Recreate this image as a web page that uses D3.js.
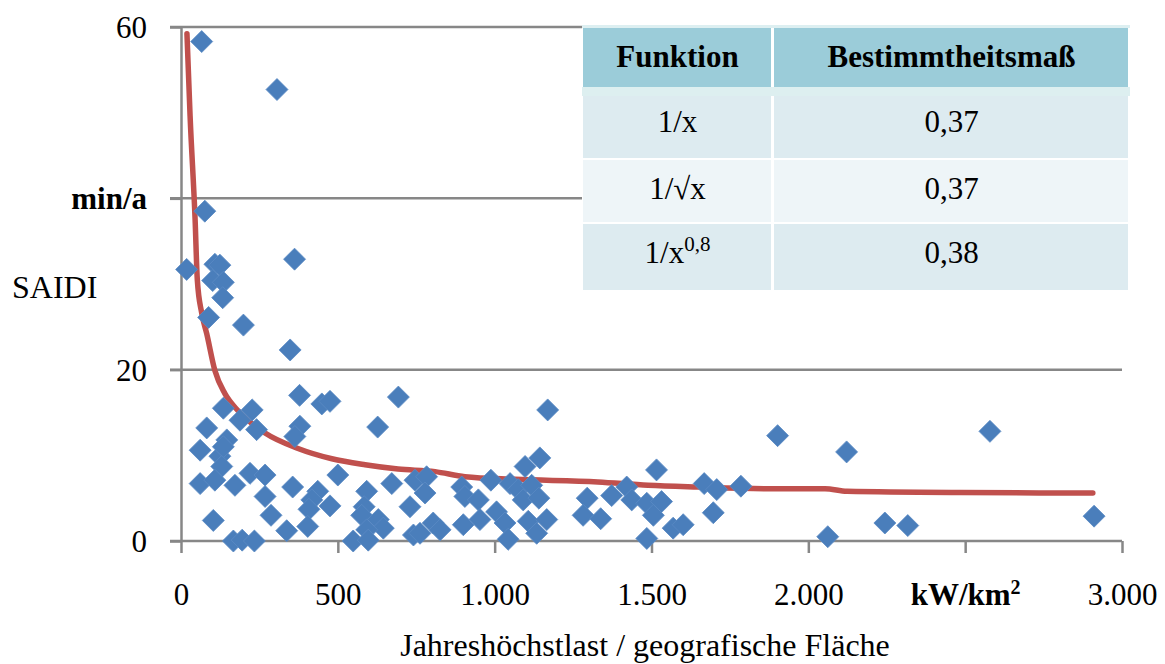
<!DOCTYPE html>
<html><head><meta charset="utf-8">
<script src="https://cdn.jsdelivr.net/npm/d3@7"></script>
<style>
html,body{margin:0;padding:0;background:#fff;}
svg{display:block;font-family:"Liberation Serif","Times New Roman",serif;}
</style></head>
<body>
<svg id="chart" width="1165" height="664"></svg>
<script>
// ---- data ----
const loadDensity = [66,306,76,18,108,124,101,135,133,88,362,199,348,
 378,449,475,693,627,135,227,188,241,82,146,61,124,135,379,363,130,61,108,172,220,268,268,356,500,436,417,408,475,287,103,337,404,167,195,234,672,592,584,576,629,645,592,549,597,730,746,741,762,
 1169,1144,1097,783,778,895,905,948,988,1049,1075,1118,1091,1141,900,953,1006,1033,1043,1107,1166,1134,804,826,1295,1282,1338,1373,1421,1437,1485,1532,1506,1516,1485,1569,
 1601,1668,1708,1785,1697,1902,2122,2062,2244,2317,2579,2911];
const saidi = [58.3,52.7,38.5,31.7,32.3,32.2,30.4,30.2,28.4,26.1,32.9,25.2,22.3,
 17.0,16.0,16.3,16.8,13.3,15.5,15.3,14.1,13.0,13.2,11.8,10.6,9.9,11.0,13.4,12.2,8.7,6.7,7.1,6.5,7.9,7.7,5.2,6.3,7.7,5.8,4.8,3.7,4.1,3.0,2.4,1.2,1.7,0,0.1,0,6.7,5.8,4.0,3.0,2.5,1.5,1.3,0,0.1,4.0,7.1,0.7,0.9,
 15.3,9.7,8.7,7.5,5.6,6.3,5.2,4.8,7.1,6.7,6.0,6.5,4.8,5.0,1.9,2.5,3.4,2.1,0.2,2.3,2.5,0.9,2.1,1.3,5.0,3.0,2.6,5.3,6.3,4.8,4.4,4.6,3.0,8.3,0.3,1.5,
 1.9,6.7,6.0,6.4,3.3,12.3,10.4,0.5,2.1,1.8,12.8,2.9];
const trendX = [19,29,45,52,66,82,108,140,182,268,373,481,587,692,810,905,1065,1329,1489,1648,1894,2053,2123,2483,2907];
const trendY = [59.2,49.6,37.5,30.5,26.6,24.2,19.9,17.2,15.2,12.6,10.8,9.6,8.9,8.4,8.1,7.5,7.2,6.9,6.5,6.3,6.1,6.1,5.8,5.65,5.6];
const xTicks = [0,500,1000,1500,2000,2500,3000];
const xTickLabels = ["0","500","1.000","1.500","2.000","kW/km²","3.000"];
const yTicks = [0,20,40,60];
const yTickLabels = ["0","20","min/a","60"];
const tableHeader = ["Funktion","Bestimmtheitsmaß"];
const tableFunctions = ["1/x","1/√x","1/x^0,8"];
const tableR2 = ["0,37","0,37","0,38"];
const yTitle = "SAIDI";
const xTitle = "Jahreshöchstlast / geografische Fläche";

// ---- chart ----
const svg = d3.select("#chart");
const x = d3.scaleLinear().domain([0,3000]).range([181,1122]);
const y = d3.scaleLinear().domain([0,60]).range([541,27]);
const axisColor = "#878787";
const fs = 31;

// gridlines
svg.append("g").selectAll("line").data(yTicks.filter(d=>d>0)).join("line")
  .attr("x1",170).attr("x2",x(3000)).attr("y1",d=>y(d)).attr("y2",d=>y(d))
  .attr("stroke",axisColor).attr("stroke-width",2.5);

// y axis
const gy = svg.append("g").attr("transform",`translate(${x(0)},0)`)
  .call(d3.axisLeft(y).tickValues(yTicks).tickSize(11).tickSizeOuter(0).tickPadding(23)
    .tickFormat((d,i)=>yTickLabels[i]));
gy.select(".domain").attr("stroke",axisColor).attr("stroke-width",2.5);
gy.selectAll(".tick line").attr("stroke",axisColor).attr("stroke-width",2.5);
gy.selectAll(".tick text").attr("font-family","Liberation Serif").attr("font-size",fs)
  .attr("fill","#000").attr("dy","0.34em")
  .attr("font-weight",(d,i)=>yTickLabels[i]==="min/a"?"bold":"normal");

// x axis
const gx = svg.append("g").attr("transform",`translate(0,${y(0)})`)
  .call(d3.axisBottom(x).tickValues(xTicks).tickSize(12).tickSizeOuter(0).tickPadding(30)
    .tickFormat((d,i)=>xTickLabels[i]));
gx.select(".domain").attr("stroke",axisColor).attr("stroke-width",2.5)
  .attr("d",`M${170},0H${x(3000)}`);
gx.selectAll(".tick line").attr("stroke",axisColor).attr("stroke-width",2.5);
gx.selectAll(".tick text").attr("font-family","Liberation Serif").attr("font-size",fs)
  .attr("fill","#000").attr("dy","0.71em");
gx.selectAll(".tick text").each(function(d,i){
  const lab = xTickLabels[i];
  if(lab.indexOf("kW")===0){
    const t = d3.select(this).text(null).attr("font-weight","bold");
    t.append("tspan").text("kW/km");
    t.append("tspan").text("2").attr("font-size",20).attr("dy",-11);
  }
});

// axis titles
svg.append("text").attr("x",12).attr("y",298).attr("font-size",fs+1).text(yTitle);
svg.append("text").attr("x",645).attr("y",656).attr("text-anchor","middle").attr("font-size",fs+1).text(xTitle);

// trend line
const line = d3.line().x((d,i)=>x(trendX[i])).y((d,i)=>y(trendY[i])).curve(d3.curveMonotoneX);
svg.append("path").datum(trendY).attr("d",line).attr("fill","none")
  .attr("stroke","#C0504D").attr("stroke-width",5.5).attr("stroke-linecap","round").attr("stroke-linejoin","round");

// points
const r = 11;
svg.append("g").selectAll("path").data(loadDensity).join("path")
  .attr("d",(d,i)=>{const cx=x(d), cy=y(saidi[i]); return `M${cx},${cy-r}L${cx+r},${cy}L${cx},${cy+r}L${cx-r},${cy}Z`;})
  .attr("fill","#4A7EBB").attr("stroke","#5B8AC4").attr("stroke-width",0.8);

// table
const tX0 = 582, tX1 = 1130, tSplit = 773;
const tb = svg.append("g");
tb.append("rect").attr("x",tX0).attr("y",24).attr("width",tX1-tX0).attr("height",268).attr("fill","#fff");
tb.append("rect").attr("x",tX0).attr("y",25).attr("width",tX1-tX0).attr("height",3).attr("fill","#DDEFF1");
const rowsY = [[28,87],[96,158],[160,222],[224,290]];
const rowFill = ["#9BCCD9","#DDEBF0","#EEF5F8","#DDEBF0"];
tb.append("rect").attr("x",tX0).attr("y",87).attr("width",tX1-tX0).attr("height",9).attr("fill","#DDEFF0");
rowsY.forEach((ry,ri)=>{
  tb.append("rect").attr("x",tX0+1).attr("y",ry[0]).attr("width",tSplit-tX0-3).attr("height",ry[1]-ry[0]).attr("fill",rowFill[ri]);
  tb.append("rect").attr("x",tSplit+1).attr("y",ry[0]).attr("width",tX1-tSplit-3).attr("height",ry[1]-ry[0]).attr("fill",rowFill[ri]);
});
const c1 = (tX0+tSplit)/2, c2 = (tSplit+tX1)/2;
tb.append("text").attr("x",c1).attr("y",67).attr("text-anchor","middle").attr("font-weight","bold").attr("font-size",fs).text(tableHeader[0]);
tb.append("text").attr("x",c2).attr("y",67).attr("text-anchor","middle").attr("font-weight","bold").attr("font-size",fs).text(tableHeader[1]);
const baselines = [132,199,263];
tableFunctions.forEach((f,i)=>{
  const t = tb.append("text").attr("x",c1).attr("y",baselines[i]).attr("text-anchor","middle").attr("font-size",fs);
  const parts = f.split("^");
  t.append("tspan").text(parts[0]);
  if(parts[1]) t.append("tspan").text(parts[1]).attr("font-size",21).attr("dy",-12);
  tb.append("text").attr("x",c2).attr("y",baselines[i]).attr("text-anchor","middle").attr("font-size",fs).text(tableR2[i]);
});
</script>
</body></html>
